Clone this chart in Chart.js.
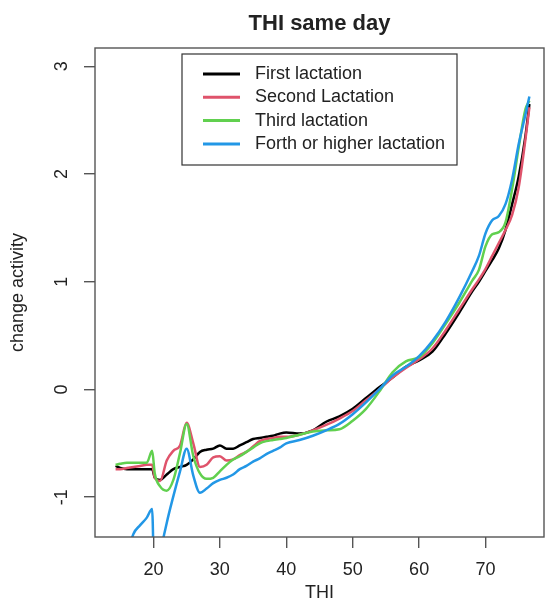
<!DOCTYPE html>
<html>
<head>
<meta charset="utf-8">
<script src="https://cdn.jsdelivr.net/npm/chart.js@4.4.1/dist/chart.umd.min.js"></script>
<style>
  html, body { margin: 0; padding: 0; background: #fff; }
</style>
</head>
<body>
<canvas id="chart" width="546" height="601"></canvas>
<script>
// THI values shared by all four curves
const thi = [14.3, 15, 16, 17, 18, 19, 19.8, 20.2, 21, 22, 23, 24, 25, 26, 27, 28, 29, 30,
  31, 32, 33, 34, 35, 36, 37, 38, 39, 40, 42, 44, 46, 48, 50, 52, 54, 56, 58, 60, 62, 64,
  66, 68, 69, 70, 71, 72, 73, 74, 75, 76, 76.6];

const firstLact = [-0.71, -0.73, -0.74, -0.74, -0.74, -0.74, -0.74, -0.82, -0.84, -0.79, -0.74, -0.72,
  -0.70, -0.65, -0.58, -0.56, -0.55, -0.52, -0.55, -0.55, -0.52, -0.49, -0.46, -0.45, -0.44, -0.43,
  -0.41, -0.40, -0.41, -0.38, -0.30, -0.25, -0.18, -0.08, 0.02, 0.11, 0.21, 0.27, 0.35, 0.52,
  0.71, 0.91, 1.00, 1.10, 1.20, 1.31, 1.48, 1.72, 1.98, 2.35, 2.65];

const secondLact = [-0.74, -0.74, -0.73, -0.72, -0.71, -0.70, -0.70, -0.82, -0.85, -0.66, -0.57, -0.52,
  -0.31, -0.50, -0.72, -0.70, -0.63, -0.62, -0.66, -0.65, -0.61, -0.58, -0.53, -0.48, -0.46, -0.45,
  -0.44, -0.44, -0.42, -0.38, -0.33, -0.27, -0.20, -0.10, 0.00, 0.11, 0.20, 0.28, 0.38, 0.55,
  0.74, 0.93, 1.02, 1.12, 1.24, 1.36, 1.48, 1.62, 1.88, 2.32, 2.62];

const thirdLact = [-0.70, -0.69, -0.68, -0.68, -0.68, -0.68, -0.57, -0.78, -0.90, -0.94, -0.84, -0.59,
  -0.32, -0.62, -0.78, -0.83, -0.82, -0.76, -0.70, -0.65, -0.62, -0.58, -0.54, -0.50, -0.48, -0.47,
  -0.46, -0.45, -0.42, -0.39, -0.38, -0.37, -0.29, -0.18, -0.02, 0.16, 0.26, 0.30, 0.43, 0.61,
  0.80, 1.01, 1.11, 1.33, 1.44, 1.46, 1.55, 1.86, 2.25, 2.60, 2.68];

const fourthLact = [-2.00, -1.85, -1.55, -1.34, -1.26, -1.19, -1.11, -2.00, -1.55, -1.24, -0.99, -0.76,
  -0.55, -0.80, -0.96, -0.92, -0.87, -0.84, -0.82, -0.79, -0.74, -0.71, -0.67, -0.64, -0.60, -0.57,
  -0.54, -0.50, -0.47, -0.43, -0.38, -0.32, -0.23, -0.12, 0.00, 0.13, 0.21, 0.31, 0.45, 0.63,
  0.85, 1.10, 1.24, 1.45, 1.57, 1.61, 1.72, 1.95, 2.28, 2.55, 2.72];

const seriesNames = ['First lactation', 'Second Lactation', 'Third lactation', 'Forth or higher lactation'];
const seriesColors = ['#000000', '#DF536B', '#61D04F', '#2297E6'];
const xTicks = [20, 30, 40, 50, 60, 70];
const yTicks = [-1, 0, 1, 2, 3];

const FONT = '"Liberation Sans", Arial, sans-serif';

const toPoints = (vals) => vals.map((v, i) => ({ x: thi[i], y: v }));

// R-like box, rotated y labels, title and legend
const rStyle = {
    id: 'rStyle',
    afterDraw(chart) {
        const { ctx, chartArea: a } = chart;
        const y = chart.scales.y;
        ctx.save();

        ctx.strokeStyle = '#555';
        ctx.lineWidth = 1.4;
        ctx.strokeRect(a.left, a.top, a.right - a.left, a.bottom - a.top);

        ctx.fillStyle = '#222';
        ctx.font = '18px ' + FONT;
        ctx.textAlign = 'center';
        ctx.textBaseline = 'middle';
        yTicks.forEach(v => {
            ctx.save();
            ctx.translate(62, y.getPixelForValue(v));
            ctx.rotate(-Math.PI / 2);
            ctx.fillText(String(v), 0, 0);
            ctx.restore();
        });

        ctx.font = 'bold 22px ' + FONT;
        ctx.fillText('THI same day', (a.left + a.right) / 2, 24);

        // legend
        ctx.fillStyle = '#fff';
        ctx.fillRect(182, 54, 275, 111);
        ctx.strokeStyle = '#333';
        ctx.lineWidth = 1.2;
        ctx.strokeRect(182, 54, 275, 111);
        ctx.font = '18px ' + FONT;
        ctx.textAlign = 'left';
        seriesNames.forEach((name, i) => {
            const cy = 74 + i * 23.3;
            ctx.strokeStyle = seriesColors[i];
            ctx.lineWidth = 3;
            ctx.beginPath();
            ctx.moveTo(203, cy);
            ctx.lineTo(240, cy);
            ctx.stroke();
            ctx.fillStyle = '#222';
            ctx.fillText(name, 255, cy);
        });
        ctx.restore();
    }
};

const datasets = [firstLact, secondLact, thirdLact, fourthLact].map((vals, i) => ({
    label: seriesNames[i],
    data: toPoints(vals),
    borderColor: seriesColors[i],
    borderWidth: 2.5,
    pointRadius: 0,
    cubicInterpolationMode: 'monotone',
    fill: false,
    order: 4 - i
}));

new Chart(document.getElementById('chart'), {
    type: 'line',
    data: { datasets },
    options: {
        responsive: false,
        animation: false,
        events: [],
        layout: { padding: { top: 48, right: 2, left: 0, bottom: 0 } },
        plugins: { legend: { display: false }, tooltip: { enabled: false }, title: { display: false } },
        scales: {
            x: {
                type: 'linear',
                min: 11.2,
                max: 78.8,
                afterBuildTicks: (s) => { s.ticks = xTicks.map(v => ({ value: v })); },
                afterFit: (s) => { s.height = 64; },
                grid: { drawOnChartArea: false, drawTicks: true, tickLength: 11, color: '#555', lineWidth: 1.4 },
                border: { display: false },
                ticks: { color: '#222', font: { family: FONT, size: 18 }, padding: 11, maxRotation: 0, autoSkip: false },
                title: { display: true, text: 'THI', color: '#222', font: { family: FONT, size: 18, lineHeight: 0.9 }, padding: 0 }
            },
            y: {
                type: 'linear',
                min: -1.37,
                max: 3.17,
                afterBuildTicks: (s) => { s.ticks = yTicks.map(v => ({ value: v })); },
                afterFit: (s) => { s.width = 95; },
                grid: { drawOnChartArea: false, drawTicks: true, tickLength: 11, color: '#555', lineWidth: 1.4 },
                border: { display: false },
                ticks: { display: false },
                title: { display: true, text: 'change activity', color: '#222', font: { family: FONT, size: 18, lineHeight: 1.2 }, padding: { top: 7, bottom: 0 } }
            }
        }
    },
    plugins: [rStyle]
});
</script>
</body>
</html>
